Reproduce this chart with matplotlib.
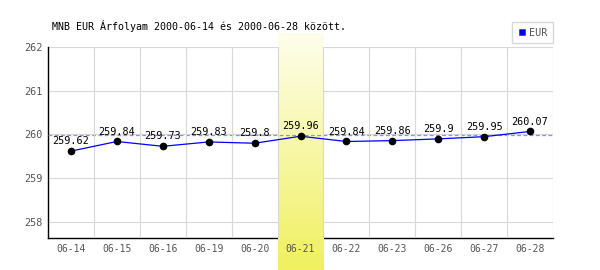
import numpy as np
import matplotlib.pyplot as plt
from matplotlib.colors import LinearSegmentedColormap
from matplotlib.lines import Line2D

# adatok
dates = ['06-14', '06-15', '06-16', '06-19', '06-20', '06-21',
         '06-22', '06-23', '06-26', '06-27', '06-28']
eur = [259.62, 259.84, 259.73, 259.83, 259.8, 259.96,
       259.84, 259.86, 259.9, 259.95, 260.07]
eur_labels = ['259.62', '259.84', '259.73', '259.83', '259.8', '259.96',
              '259.84', '259.86', '259.9', '259.95', '260.07']
ref_level = 259.985
highlight = '06-21'
yticks = [258, 259, 260, 261, 262]
title = 'MNB EUR Árfolyam 2000-06-14 és 2000-06-28 között.'

mono = 'DejaVu Sans Mono'
grid_c = '#d8d8d8'

fig = plt.figure(figsize=(6, 2.7), dpi=100)
ax = fig.add_axes([48/600, 1 - 238/270, 505/600, 191/270])

x = np.arange(len(dates))
ymin, ymax = 257.634, 262
ax.set_xlim(-0.5, len(dates) - 0.5)
ax.set_ylim(ymin, ymax)

# racs
ax.set_axisbelow(True)
ax.set_yticks(yticks)
ax.set_xticks(x)
ax.set_xticklabels(dates)
ax.set_xticks(np.arange(1, len(dates) + 1) - 0.5, minor=True)
ax.grid(True, axis='y', which='major', color=grid_c, lw=0.8)
ax.grid(True, axis='x', which='minor', color=grid_c, lw=0.8)
ax.tick_params(which='both', length=0)
ax.tick_params(axis='x', pad=4, labelsize=7, labelcolor='#555555')
ax.tick_params(axis='y', pad=4, labelsize=7.3, labelcolor='#555555')
for lab in ax.get_xticklabels() + ax.get_yticklabels():
    lab.set_fontfamily(mono)
ax.xaxis.set_zorder(3.8)

for s in ['top', 'right']:
    ax.spines[s].set_visible(False)
for s in ['left', 'bottom']:
    ax.spines[s].set_color('black')
    ax.spines[s].set_linewidth(1.0)
    ax.spines[s].set_zorder(3.5)

# kiemelt nap savja
hi = dates.index(highlight)
ppu = 191 / (ymax - ymin)
band_top = ymax + 14 / ppu
band_bot = ymin - 32 / ppu
cmap = LinearSegmentedColormap.from_list('sav', ['#fefeec', '#f0f060'])
grad = np.linspace(0, 1, 256).reshape(-1, 1)
band = ax.imshow(grad, cmap=cmap, aspect='auto', origin='upper',
                 extent=(hi - 0.5, hi + 0.5, band_bot, band_top),
                 clip_on=False, zorder=3.6)

ax.axhline(ref_level, color='#8c8cff', lw=0.9, ls=(0, (3, 2)), zorder=3.7)

ax.plot(x, eur, color='#0000ff', lw=0.9, zorder=4)
ax.plot(x, eur, 'o', color='black', ms=4.5, zorder=5)
for xi, yi, lab in zip(x, eur, eur_labels):
    ax.annotate(lab, (xi, yi), xytext=(0, 3.5), textcoords='offset points',
                ha='center', va='bottom', fontsize=7.3, family=mono,
                color='black', zorder=6)

fig.text(52/600, 1 - 26/270, title, ha='left', va='center',
         fontsize=7.2, family=mono, color='black')

h = Line2D([], [], ls='none', marker='s', color='#0000ff',
           markeredgecolor='#333333', markeredgewidth=0.4, ms=5)
leg = ax.legend([h], ['EUR'], loc='upper right',
                bbox_to_anchor=(553/600, 1 - 22/270),
                bbox_transform=fig.transFigure, frameon=True,
                fancybox=False, edgecolor=grid_c, framealpha=1,
                handlelength=0.8, handletextpad=0.3, borderpad=0.55,
                borderaxespad=0, prop={'family': mono, 'size': 7.3})
leg.get_frame().set_linewidth(1.0)
for t in leg.get_texts():
    t.set_color('#555555')

fig.savefig('out.png', dpi=100)
